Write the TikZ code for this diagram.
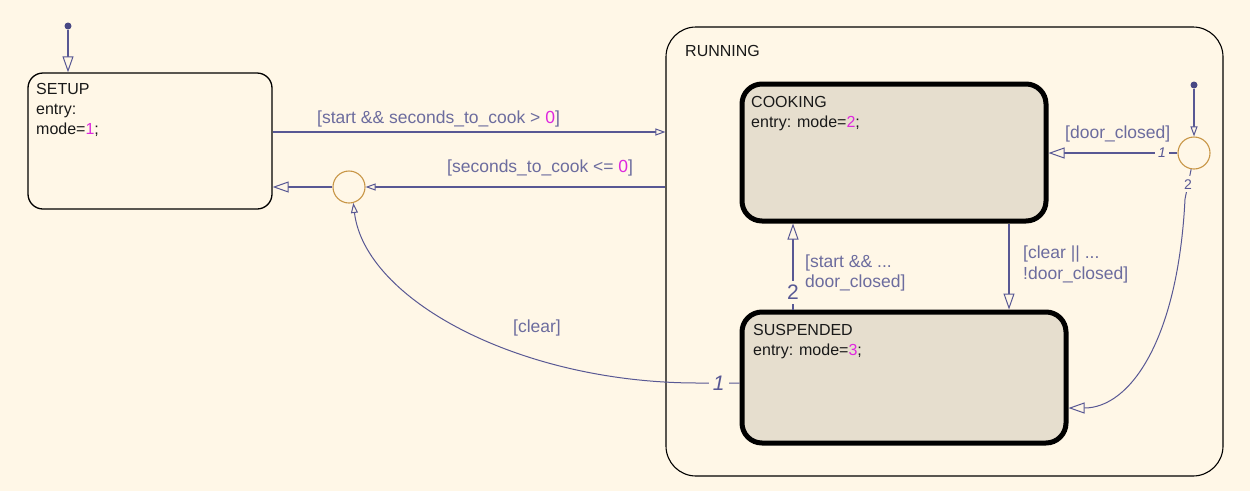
\documentclass[tikz,border=0pt]{standalone}
\usepackage{fontspec}
\setmainfont{Liberation Sans}
\usetikzlibrary{arrows.meta}
\definecolor{bg}{RGB}{255,247,231}
\definecolor{linec}{RGB}{88,88,148}
\definecolor{lblc}{RGB}{108,108,158}
\definecolor{mag}{RGB}{222,40,222}
\definecolor{stfill}{RGB}{230,222,206}
\definecolor{juncc}{RGB}{200,150,70}
\definecolor{dotc}{RGB}{72,72,132}
\definecolor{txtc}{RGB}{25,25,25}
\tikzset{
  bigtip/.tip={Triangle[length=16pt,width=11pt,fill=bg,line width=1pt]},
  smalltip/.tip={Triangle[length=10pt,width=7pt,fill=bg,line width=1pt]},
  plainst/.style={draw=black, fill=bg, inner sep=0pt, line width=1.3pt},
  thickst/.style={draw=black, fill=stfill, inner sep=0pt, line width=5pt, rounded corners=20pt},
  junc/.style={circle, draw=juncc, fill=bg, minimum size=32pt, inner sep=0pt, line width=1.1pt},
  dotn/.style={circle, fill=dotc, minimum size=7pt, inner sep=0pt},
  tr/.style={draw=linec, line width=1.1pt},
  stxt/.style={anchor=base west, inner sep=0pt, text=txtc, font=\fontsize{16}{20}\selectfont},
  lbl/.style={anchor=base west, inner sep=0pt, text=lblc, font=\fontsize{17.5}{20}\selectfont},
  numbig/.style={fill=bg, text=linec, inner sep=4pt, font=\fontsize{21}{21}\selectfont},
  numsmall/.style={fill=bg, text=linec, inner sep=3pt, font=\fontsize{14}{14}\selectfont}
}
\begin{document}
\begin{tikzpicture}[x=1pt,y=-1pt]
\fill[bg] (0,0) rectangle (1250,491);
\useasboundingbox (0,0) rectangle (1250,491);

% states
\node[plainst, minimum width=244pt, minimum height=136pt, rounded corners=15pt] (setup) at (150,141) {};
\node[plainst, line width=1.1pt, minimum width=557pt, minimum height=449pt, rounded corners=30pt] (running) at (944.5,251.5) {};
\node[thickst, minimum width=304pt, minimum height=137pt] (cooking) at (894,152.5) {};
\node[thickst, minimum width=324pt, minimum height=131pt] (susp) at (904,377.5) {};

% state texts
\node[stxt] (setupname) at (36,94) {SETUP};
\node[stxt] (setupe) at (36,114) {entry:};
\node[stxt] (setupm) at (36,134) {mode=\textcolor{mag}{1};};
\node[stxt] (runname) at (685,56) {RUNNING};
\node[stxt] (cookname) at (751,107) {COOKING};
\node[stxt] (cooke) at (751,127) {entry: mode=\textcolor{mag}{2};};
\node[stxt] (suspname) at (753,335) {SUSPENDED};
\node[stxt] (suspe) at (753,355) {entry: mode=\textcolor{mag}{3};};

% junctions and default dots
\node[junc] (j1) at (349,187) {};
\node[junc] (j2) at (1194,153) {};
\node[dotn] (d1) at (68,26) {};
\node[dotn] (d2) at (1194,85) {};

% helper coordinates
\coordinate (yA) at (0,132);
\coordinate (yB) at (0,187);
\coordinate (yC) at (0,383);
\coordinate (yD) at (0,408);
\coordinate (xA) at (793,0);
\coordinate (xB) at (1009,0);
\coordinate (c1) at (698,383);
\coordinate (c2) at (1185,199);

% transitions
\draw[tr, -{bigtip}] (d1) -- (d1 |- setup.north);
\draw[tr, -{smalltip}] (setup.east |- yA) -- (running.west |- yA);
\draw[tr, -{smalltip}] (running.west |- yB) -- (j1.east);
\draw[tr, -{bigtip}] (j1.west) -- (setup.east |- yB);
\draw[tr, line width=1pt, -{smalltip}] (susp.west |- yC) -- node[numbig] (n1) {\itshape 1} (c1)
   .. controls (520,383) and (365,300) .. (j1.-75);
\draw[tr, -{smalltip}] (d2) -- (j2.north);
\draw[tr, -{bigtip}] (j2.west) -- node[numsmall, pos=0.12] (n3) {\itshape 1} (cooking.east |- j2);
\draw[tr, line width=1pt, -{bigtip}] (j2.-100) -- node[numsmall] (n4) {2} (c2)
   .. controls (1178,340) and (1130,408) .. (susp.east |- yD);
\draw[tr, -{bigtip}] (xA |- susp.north) -- node[numbig, pos=0.2] (n2) {2} (xA |- cooking.south);
\draw[tr, -{bigtip}] (xB |- cooking.south) -- (xB |- susp.north);

% labels
\node[lbl] (l1) at (317,123) {[start \&\& seconds\_to\_cook > \textcolor{mag}{0}]};
\node[lbl] (l2) at (447,172) {[seconds\_to\_cook <= \textcolor{mag}{0}]};
\node[lbl] (l3) at (1065,138) {[door\_closed]};
\node[lbl] (l4a) at (805,267) {[start \&\& ...};
\node[lbl] (l4b) at (805,287) {door\_closed]};
\node[lbl] (l5a) at (1023,258) {[clear || ...};
\node[lbl] (l5b) at (1023,279) {!door\_closed]};
\node[lbl] (l6) at (513,332) {[clear]};
\end{tikzpicture}
\end{document}
